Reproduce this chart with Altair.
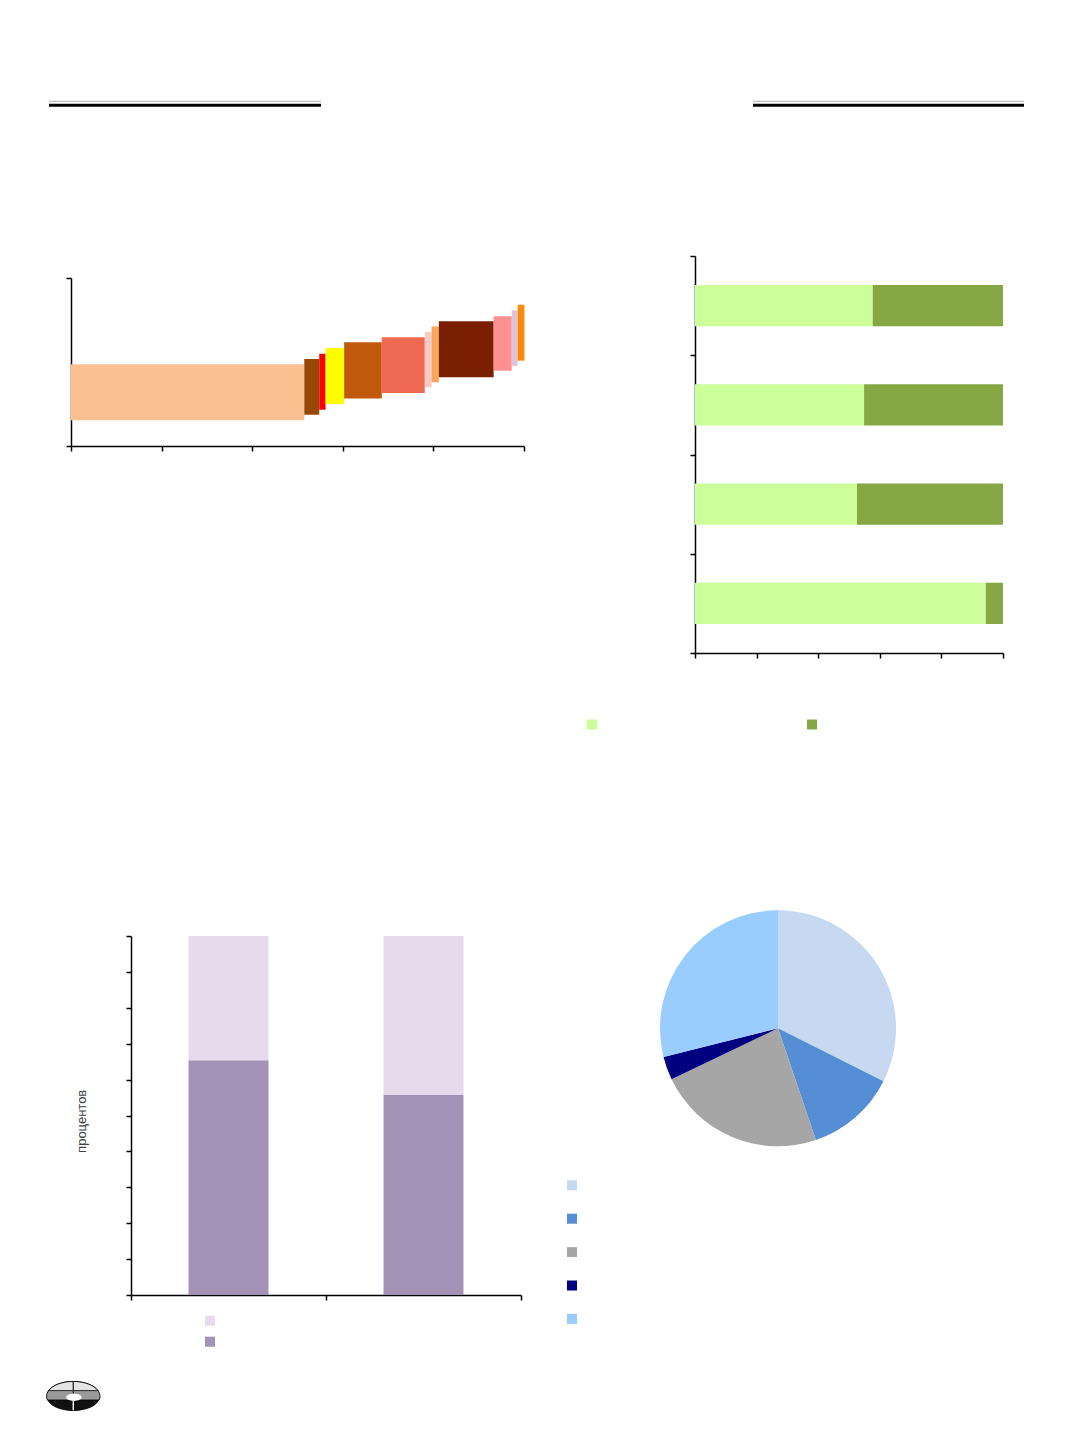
import altair as alt
import pandas as pd

# ---------------- data ----------------
# Chart 1 (top-left): floating bars of varying width
c1_items = [f"Позиция {i + 1}" for i in range(12)]
c1_widths = [51.5, 3.3, 1.4, 4.1, 8.3, 9.5, 1.5, 1.6, 12.1, 4.0, 1.3, 1.5]
c1_low = [15.3, 18.6, 21.6, 25.0, 28.2, 31.5, 34.9, 37.9, 40.9, 44.8, 47.8, 50.8]
c1_high = [48.6, 51.8, 54.9, 58.3, 61.7, 64.7, 67.9, 71.2, 74.2, 77.2, 80.8, 84.1]
c1_colors = ["#FAC090", "#974706", "#FF0000", "#FFFF00", "#C0590B", "#EE6852",
             "#F9C9C3", "#FAA55A", "#7B1F03", "#FF9090", "#DCC4DC", "#FF8A0A"]

# Chart 2 (top-right): 100% stacked horizontal bars (top to bottom)
c2_categories = ["Группа 1", "Группа 2", "Группа 3", "Группа 4"]
c2_series = ["Серия A", "Серия B"]
c2_a = [57.7, 54.9, 52.6, 94.4]
c2_b = [42.3, 45.1, 47.4, 5.6]
c2_colors = ["#CCFF99", "#86A744"]

# Chart 3 (bottom-left): 100% stacked columns
c3_categories = ["Период 1", "Период 2"]
c3_series = ["Серия 1", "Серия 2"]          # legend order: light, dark
c3_upper = [34.6, 44.3]
c3_lower = [65.4, 55.7]
c3_colors = ["#E6DAEC", "#A391B6"]

# Chart 4 (bottom-right): pie
c4_labels = ["Доля 1", "Доля 2", "Доля 3", "Доля 4", "Доля 5"]
c4_values = [32.4, 12.4, 23.1, 3.2, 28.9]
c4_colors = ["#C6D9F1", "#558ED5", "#A6A6A6", "#000080", "#99CCFF"]

# ---------------- helpers ----------------
one = pd.DataFrame({"k": [0]})


def ax(values, offset, **kw):
    kw.setdefault("title", None)
    return alt.Axis(values=values, labels=False, grid=False, domainColor="black",
                    domainWidth=1.5, tickColor="black", tickWidth=1.5, tickSize=5,
                    offset=offset, **kw)


def double_line(xa, xb, yg, yb):
    g = alt.Chart(one).mark_rule(color="#BFBFBF", strokeWidth=1.3).encode(
        x=alt.value(xa), x2=alt.value(xb), y=alt.value(yg))
    b = alt.Chart(one).mark_rule(color="black", strokeWidth=3).encode(
        x=alt.value(xa), x2=alt.value(xb), y=alt.value(yb))
    return [g, b]


def sym_legend(x, y, **kw):
    return alt.Legend(orient="none", legendX=x, legendY=y, title=None, labelExpr="''",
                      symbolType="square", symbolSize=100, symbolStrokeWidth=0,
                      symbolOpacity=1, padding=0, labelFontSize=1, **kw)


# cell sizes (each cell is a full plot area; charts are placed by scale ranges)
WL, WR = 532, 524
H1, H2 = 752, 658

# ---------------- chart 1 ----------------
x0, x1 = [], []
acc = 0.0
for w in c1_widths:
    x0.append(acc)
    acc += w
    x1.append(acc)
df1 = pd.DataFrame({"item": c1_items, "x0": x0, "x1": x1, "low": c1_low, "high": c1_high})
A_L, A_R, A_B, A_T = 63, 516, 438, 270
bars1 = alt.Chart(df1).mark_bar().encode(
    x=alt.X("x0:Q", scale=alt.Scale(domain=[0, 100], range=[A_L, A_R], nice=False),
            axis=ax([0, 20, 40, 60, 80, 100], -(H1 - A_B))),
    x2="x1:Q",
    y=alt.Y("low:Q", scale=alt.Scale(domain=[0, 100], range=[A_B, A_T], nice=False),
            axis=ax([0, 100], -A_L)),
    y2="high:Q",
    color=alt.Color("item:N", scale=alt.Scale(domain=c1_items, range=c1_colors), legend=None),
)
cell_a = alt.layer(*double_line(41, 313, 93.3, 97.2), bars1).properties(width=WL, height=H1)

# ---------------- chart 2 ----------------
rows2 = []
n2 = len(c2_categories)
for i, cat in enumerate(c2_categories):
    pos = n2 - 1 - i
    rows2.append({"cat": cat, "series": c2_series[0], "start": 0, "end": c2_a[i],
                  "ylo": pos + 0.292, "yhi": pos + 0.708})
    rows2.append({"cat": cat, "series": c2_series[1], "start": c2_a[i], "end": c2_a[i] + c2_b[i],
                  "ylo": pos + 0.292, "yhi": pos + 0.708})
df2 = pd.DataFrame(rows2)
B_L, B_R, B_B, B_T = 155, 463, 645, 248
bars2 = alt.Chart(df2).mark_bar().encode(
    x=alt.X("start:Q", scale=alt.Scale(domain=[0, 100], range=[B_L, B_R], nice=False),
            axis=ax([0, 20, 40, 60, 80, 100], -(H1 - B_B))),
    x2="end:Q",
    y=alt.Y("ylo:Q", scale=alt.Scale(domain=[0, n2], range=[B_B, B_T], nice=False),
            axis=ax(list(range(n2 + 1)), -B_L)),
    y2="yhi:Q",
    color=alt.Color("series:N", scale=alt.Scale(domain=c2_series, range=c2_colors),
                    legend=sym_legend(47, 711.5, direction="horizontal", columnPadding=206)),
)
cell_b = alt.layer(*double_line(213, 484, 93.3, 97.2), bars2).properties(width=WR, height=H1)

# ---------------- chart 3 ----------------
rows3 = []
for i, cat in enumerate(c3_categories):
    rows3.append({"cat": cat, "series": c3_series[1], "lo": 0, "hi": c3_lower[i],
                  "xl": i + 0.295, "xr": i + 0.705})
    rows3.append({"cat": cat, "series": c3_series[0], "lo": c3_lower[i], "hi": c3_lower[i] + c3_upper[i],
                  "xl": i + 0.295, "xr": i + 0.705})
df3 = pd.DataFrame(rows3)
C_L, C_R, C_B, C_T = 123, 513, 535, 176
bars3 = alt.Chart(df3).mark_bar().encode(
    x=alt.X("xl:Q", scale=alt.Scale(domain=[0, len(c3_categories)], range=[C_L, C_R], nice=False),
            axis=ax(list(range(len(c3_categories) + 1)), -(H2 - C_B))),
    x2="xr:Q",
    y=alt.Y("lo:Q", scale=alt.Scale(domain=[0, 100], range=[C_B, C_T], nice=False),
            axis=ax(list(range(0, 101, 10)), -C_L, title="процентов", titleX=-49.3, titleY=360.8,
                    titleAngle=270, titleAlign="center", titleBaseline="middle",
                    titleFont="Liberation Sans", titleFontSize=13, titleFontWeight="normal",
                    titleColor="#404040")),
    y2="hi:Q",
    color=alt.Color("series:N", scale=alt.Scale(domain=c3_series, range=c3_colors),
                    legend=sym_legend(197, 555.7, direction="vertical", rowPadding=11)),
)

# small logo (decoration) at bottom-left
LX, LY, LS = 65.3, 636.2, 3136
logo_parts = [
    ("M -0.955 0 A 0.955 0.527 0 1 1 0.955 0 A 0.955 0.527 0 1 1 -0.955 0 Z", "#111111", None),
    ("M -0.9227 0.136 A 0.955 0.527 0 1 1 0.9227 0.136 Z", "#9A9A9A", "black"),
    ("M -0.8836 -0.2 A 0.955 0.527 0 0 1 0.8836 -0.2 Z", "#E4E4E4", "black"),
    ("M -0.26 0.04 A 0.28 0.13 0 1 1 0.30 0.04 A 0.28 0.13 0 1 1 -0.26 0.04 Z", "white", None),
    ("M -0.025 -0.53 L 0.025 -0.53 L 0.025 -0.1 L -0.025 -0.1 Z", "#333333", None),
    ("M -0.025 0.17 L 0.025 0.17 L 0.025 0.5 L -0.025 0.5 Z", "white", None),
]
logo = []
for path, fill, stroke in logo_parts:
    kw = dict(shape=path, size=LS, filled=True, fill=fill, opacity=1, fillOpacity=1)
    if stroke:
        kw.update(stroke=stroke, strokeWidth=0.8, strokeOpacity=1)
    else:
        kw.update(strokeWidth=0)
    logo.append(alt.Chart(one).mark_point(**kw).encode(x=alt.value(LX), y=alt.value(LY)))

cell_c = alt.layer(bars3, *logo).properties(width=WL, height=H2)

# ---------------- chart 4 ----------------
df4 = pd.DataFrame({"label": c4_labels, "value": c4_values, "idx": list(range(len(c4_labels)))})
pie = alt.Chart(df4).mark_arc(radius=118).encode(
    theta=alt.Theta("value:Q", stack=True),
    color=alt.Color("label:N", scale=alt.Scale(domain=c4_labels, range=c4_colors),
                    legend=sym_legend(27, 420.3, direction="vertical", rowPadding=23.4)),
    order=alt.Order("idx:Q"),
    x=alt.value(238),
    y=alt.value(268.3),
)
cell_d = pie.properties(width=WR, height=H2)

row1 = alt.hconcat(cell_a, cell_b, spacing=0).resolve_scale(color="independent")
row2 = alt.hconcat(cell_c, cell_d, spacing=0).resolve_scale(color="independent")
chart = alt.vconcat(row1, row2, spacing=0).resolve_scale(color="independent").properties(
    padding=0, background="white"
).configure_view(stroke=None)

chart.save("out.html", embed_options={"renderer": "svg", "actions": False})
